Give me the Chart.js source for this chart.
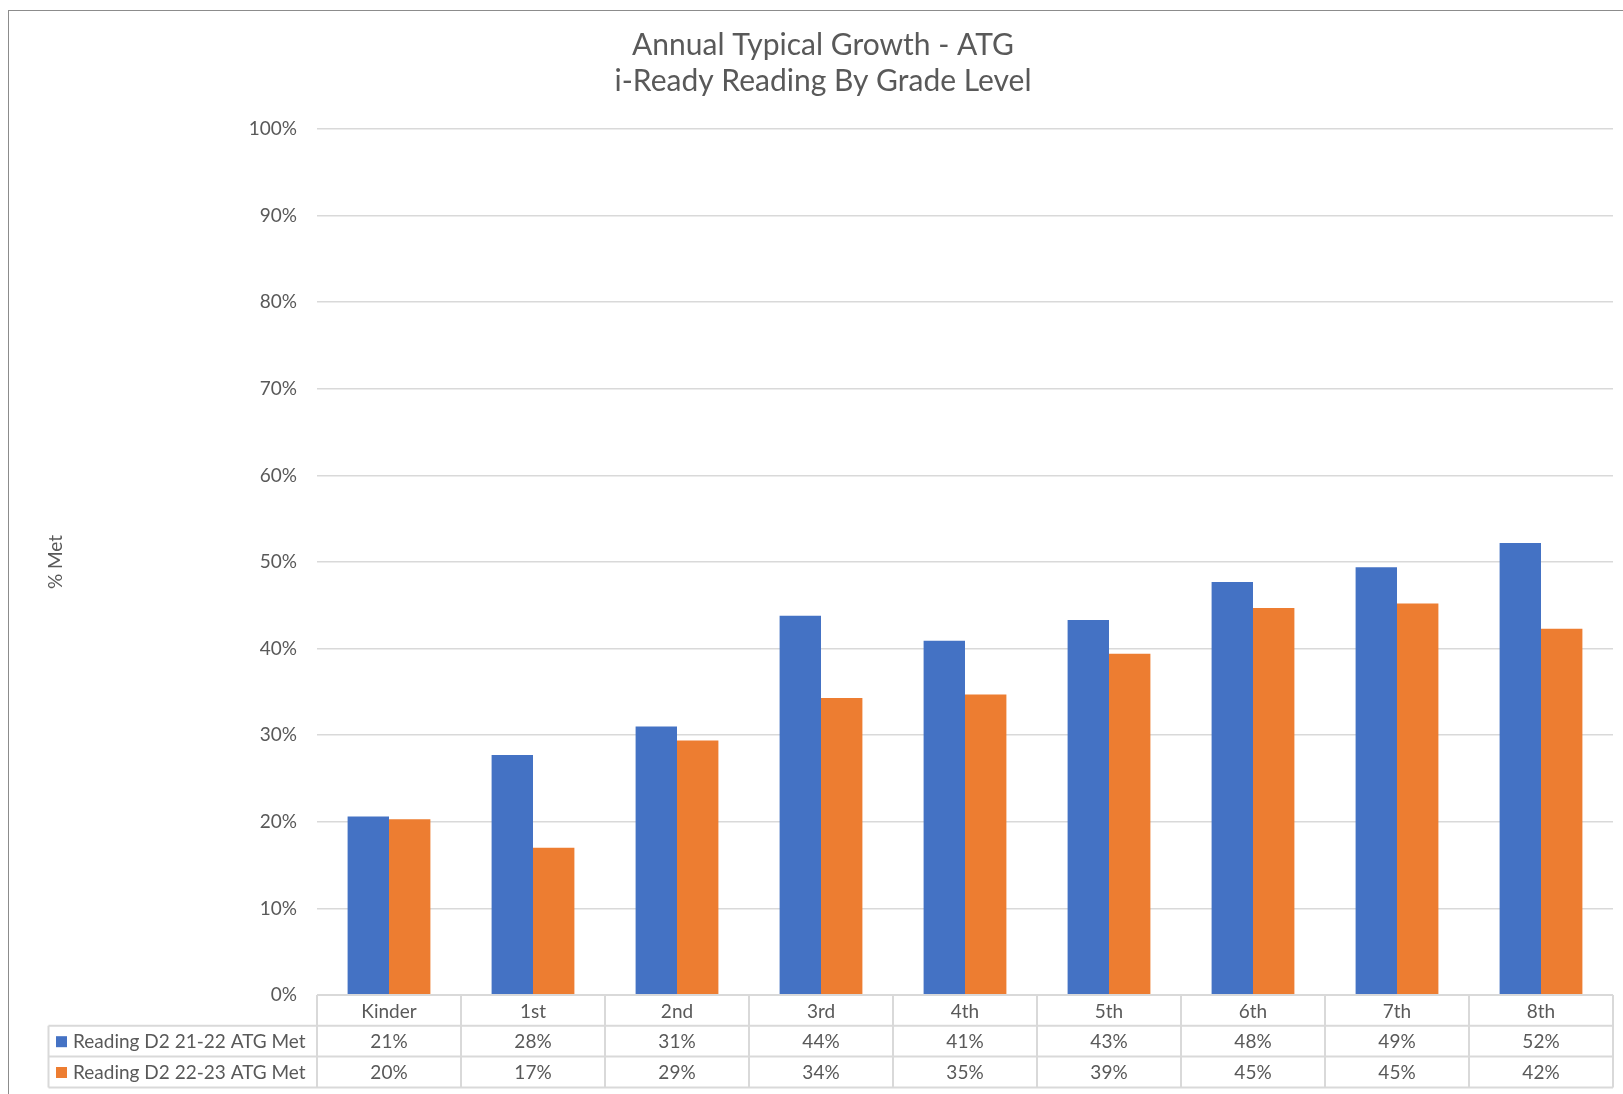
<!DOCTYPE html>
<html>
<head>
<meta charset="utf-8">
<script src="https://cdn.jsdelivr.net/npm/chart.js@4.4.0/dist/chart.umd.min.js"></script>
<style>
  html, body { margin: 0; padding: 0; background: #fff; overflow: hidden; }
  #frame { position: absolute; left: 8px; top: 10px; width: 1700px; height: 1200px; border: 1.5px solid #8c8c8c; }
  #myChart { position: absolute; left: 0; top: 0; }
</style>
</head>
<body>
<div id="frame"></div>
<canvas id="myChart" width="1623" height="1094"></canvas>
<script>
// dane z wykresu
const grades = ['Kinder', '1st', '2nd', '3rd', '4th', '5th', '6th', '7th', '8th'];
const series1Label = 'Reading D2 21-22 ATG Met';
const series1 = [20.6, 27.7, 31.0, 43.8, 40.9, 43.3, 47.7, 49.4, 52.2];
const series2Label = 'Reading D2 22-23 ATG Met';
const series2 = [20.3, 17.0, 29.4, 34.3, 34.7, 39.4, 44.7, 45.2, 42.3];
const yTicks = [0, 10, 20, 30, 40, 50, 60, 70, 80, 90, 100];

const blue = '#4472C4';
const orange = '#ED7D31';
const gray = '#595959';
const lineGray = '#d9d9d9';
const fontFam = 'Lato, "Open Sans", sans-serif';

// tabela danych pod wykresem
const dataTable = {
    id: 'dataTable',
    afterDraw(chart) {
        const ctx = chart.ctx;
        const area = chart.chartArea;
        const xs = chart.scales.x;
        const n = grades.length;
        const colW = area.width / n;
        const rowH = 30.8;
        const top = area.bottom;
        const legendLeft = 48.5;
        const rows = [
            { label: series1Label, color: blue, values: series1 },
            { label: series2Label, color: orange, values: series2 }
        ];

        ctx.save();
        ctx.strokeStyle = lineGray;
        ctx.lineWidth = 2;
        ctx.beginPath();
        // poziome linie
        ctx.moveTo(area.left, top);
        ctx.lineTo(area.right, top);
        for (let r = 1; r <= 3; r++) {
            ctx.moveTo(legendLeft, top + r * rowH);
            ctx.lineTo(area.right, top + r * rowH);
        }
        // pionowe linie
        for (let i = 0; i <= n; i++) {
            const x = area.left + i * colW;
            ctx.moveTo(x, top);
            ctx.lineTo(x, top + 3 * rowH);
        }
        ctx.moveTo(legendLeft, top + rowH);
        ctx.lineTo(legendLeft, top + 3 * rowH);
        ctx.stroke();

        ctx.fillStyle = gray;
        ctx.font = '19px ' + fontFam;
        ctx.textAlign = 'center';
        ctx.textBaseline = 'middle';
        grades.forEach((g, i) => {
            ctx.fillText(g, xs.getPixelForValue(i), top + rowH / 2 + 1);
        });

        rows.forEach((row, r) => {
            const cy = top + (r + 1.5) * rowH + 1;
            ctx.fillStyle = row.color;
            ctx.fillRect(56, cy - 6, 11, 11);
            ctx.fillStyle = gray;
            ctx.textAlign = 'left';
            ctx.fillText(row.label, 73, cy);
            ctx.textAlign = 'center';
            row.values.forEach((v, i) => {
                ctx.fillText(Math.round(v) + '%', xs.getPixelForValue(i), cy);
            });
        });
        ctx.restore();
    }
};

const ctx = document.getElementById('myChart').getContext('2d');
const myChart = new Chart(ctx, {
    type: 'bar',
    data: {
        labels: grades,
        datasets: [{
            label: series1Label,
            data: series1,
            backgroundColor: blue,
            categoryPercentage: 0.575,
            barPercentage: 1
        }, {
            label: series2Label,
            data: series2,
            backgroundColor: orange,
            categoryPercentage: 0.575,
            barPercentage: 1
        }]
    },
    options: {
        responsive: false,
        animation: false,
        layout: {
            padding: { left: 33, right: 10, top: 0, bottom: 99 }
        },
        plugins: {
            legend: { display: false },
            tooltip: { enabled: false },
            title: {
                display: true,
                text: ['Annual Typical Growth - ATG', 'i-Ready Reading By Grade Level'],
                color: gray,
                font: { family: fontFam, size: 30, weight: 'normal', lineHeight: 1.2 },
                padding: { top: 27, bottom: 30 }
            }
        },
        scales: {
            x: {
                display: false
            },
            y: {
                min: 0,
                max: 100,
                afterBuildTicks: axis => {
                    axis.ticks = yTicks.map(v => ({ value: v }));
                },
                afterFit: axis => {
                    axis.width = 284;
                },
                border: { display: false },
                grid: { color: lineGray, lineWidth: 1.5, drawTicks: false },
                ticks: {
                    color: gray,
                    padding: 20,
                    font: { family: fontFam, size: 19 },
                    callback: v => v + '%'
                },
                title: {
                    display: true,
                    text: '% Met',
                    color: gray,
                    font: { family: fontFam, size: 19 },
                    padding: { top: 11 }
                }
            }
        }
    },
    plugins: [dataTable]
});
</script>
</body>
</html>
